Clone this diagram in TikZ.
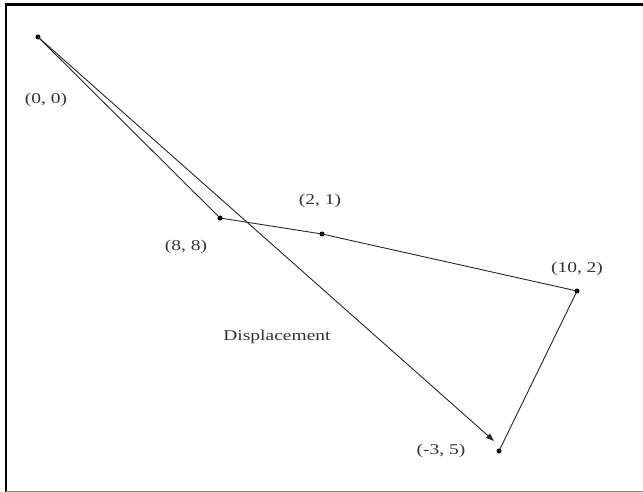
\documentclass[tikz,border=0pt]{standalone}
\usepackage{fontspec}
\setmainfont{Liberation Serif}
\newfontfamily\lblfont[FakeStretch=1.3]{Liberation Serif}
\usetikzlibrary{arrows.meta}
\begin{document}
\begin{tikzpicture}[x=1pt,y=-1pt,
  pt/.style={circle,fill=black,inner sep=0pt,minimum size=5pt},
  lbl/.style={text=black!80,font=\lblfont\fontsize{15}{16}\selectfont,inner sep=0pt},
  seg/.style={draw=black!85,line width=0.9pt}]
\useasboundingbox (0,0) rectangle (643,492);
% frame
\draw[line width=2.8pt] (5,4.6) -- (643,4.6);
\draw[line width=2.4pt] (6.2,3.2) -- (6.2,492);
\draw[black!45,line width=1pt] (6,491) -- (643,491);
% points
\node[pt] (o) at (38,37) {};
\node[pt] (a) at (220,218) {};
\node[pt] (b) at (322,234) {};
\node[pt] (c) at (577,291) {};
\node[pt] (d) at (499,451) {};
\coordinate (tip) at (494,441);
% segments
\draw[seg] (o.center) -- (a.center) -- (b.center) -- (c.center) -- (d.center);
\draw[seg,-{Triangle[length=8pt,width=5.5pt]}] (o.center) -- (tip);
% labels
\node[lbl] (l0) at (46,100) {(0, 0)};
\node[lbl] (l1) at (186,247) {(8, 8)};
\node[lbl] (l2) at (320,201) {(2, 1)};
\node[lbl] (l3) at (577,269) {(10, 2)};
\node[lbl] (l4) at (441,451) {(-3, 5)};
\node[lbl] (l5) at (277,337) {Displacement};
\end{tikzpicture}
\end{document}
